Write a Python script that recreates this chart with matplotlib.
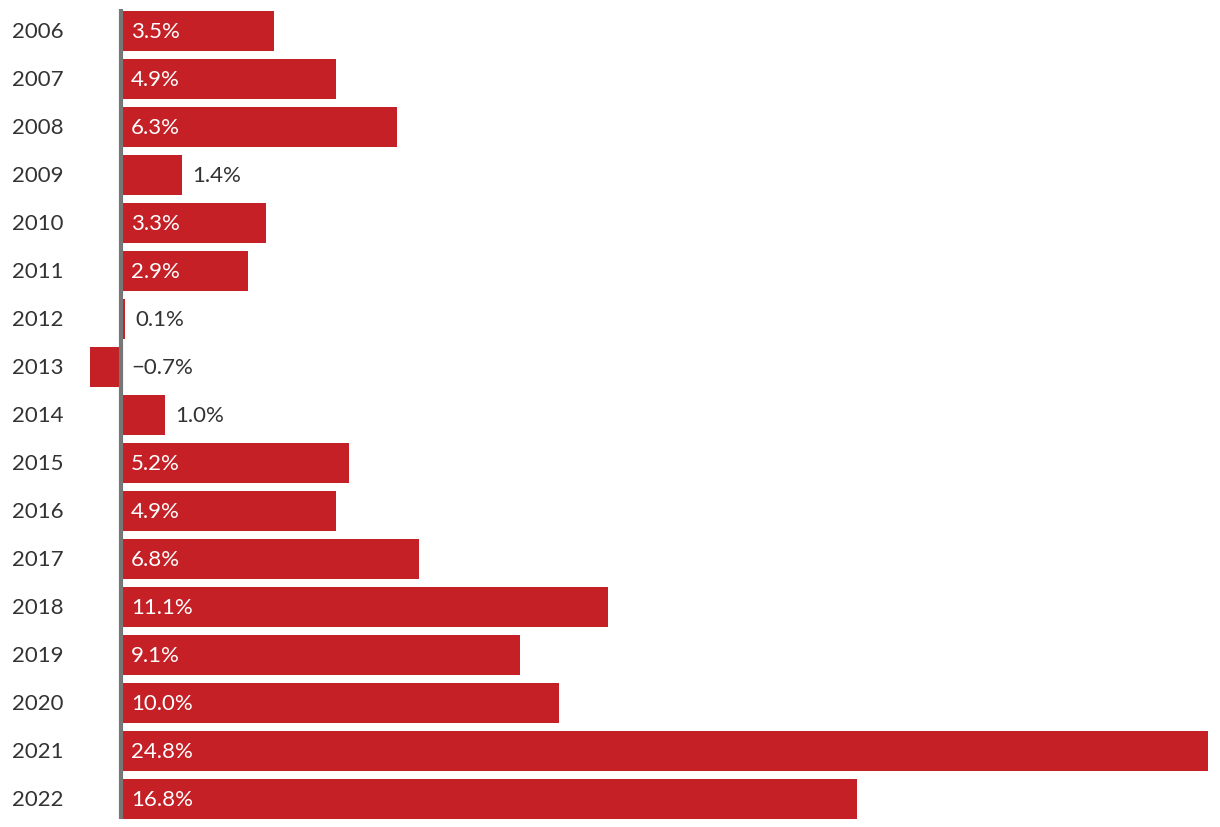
import matplotlib.pyplot as plt

# data
years = ["2006", "2007", "2008", "2009", "2010", "2011", "2012", "2013", "2014",
         "2015", "2016", "2017", "2018", "2019", "2020", "2021", "2022"]
values = [3.5, 4.9, 6.3, 1.4, 3.3, 2.9, 0.1, -0.7, 1.0,
          5.2, 4.9, 6.8, 11.1, 9.1, 10.0, 24.8, 16.8]
labels = ["3.5%", "4.9%", "6.3%", "1.4%", "3.3%", "2.9%", "0.1%", "\u22120.7%", "1.0%",
          "5.2%", "4.9%", "6.8%", "11.1%", "9.1%", "10.0%", "24.8%", "16.8%"]

plt.rcParams['font.family'] = ['Lato', 'DejaVu Sans']

red = "#c42026"
txt = "#333333"

fig = plt.figure(figsize=(12.2, 8.28), dpi=100)
ax = fig.add_axes([0, 0, 1, 1])

pos = list(range(len(years)))
ax.barh(pos, values, height=0.833, color=red, left=0)

# zero line
ax.plot([0, 0], [-0.46, 16.42], color="#777777", lw=3, solid_capstyle="butt", zorder=3)

for i, (v, lab) in enumerate(zip(values, labels)):
    inside = v >= 2.5
    x0 = v if (v > 0 and not inside) else 0
    ax.annotate(lab, (x0, i), xytext=(7.2, 0), textcoords="offset points",
                va="center", ha="left", fontsize=16,
                color="white" if inside else txt)
    ax.annotate(years[i], (0, i), xycoords=("figure pixels", "data"),
                xytext=(12, 0), textcoords="offset pixels",
                va="center", ha="left", fontsize=16, color=txt)

ax.set_xlim(-121 / 43.83, (1220 - 121) / 43.83)
ax.set_ylim((828 - 32) / 48, -32 / 48)
ax.axis("off")

fig.savefig("out.png", dpi=100)
